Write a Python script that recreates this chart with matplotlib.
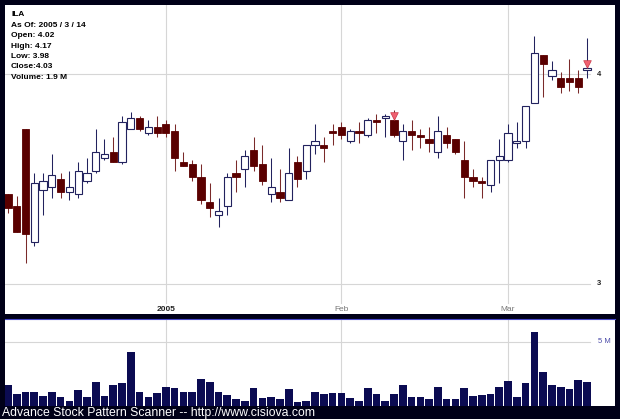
import matplotlib
matplotlib.use('Agg')
from matplotlib import pyplot as plt
from matplotlib.lines import Line2D
import numpy as np

# ILA daily candles, Dec 2004 -> 2005/3/14
opens = [3.43, 3.37, 3.74, 3.20, 3.45, 3.46, 3.50, 3.44, 3.43, 3.49,
         3.54, 3.60, 3.63, 3.58, 3.74, 3.79, 3.72, 3.75, 3.76, 3.73,
         3.58, 3.57, 3.51, 3.39, 3.33, 3.37, 3.53, 3.55, 3.64, 3.57,
         3.43, 3.44, 3.40, 3.58, 3.54, 3.66, 3.66, 3.73, 3.75, 3.68,
         3.73, 3.71, 3.78, 3.79, 3.78, 3.68, 3.73, 3.71, 3.69, 3.63,
         3.71, 3.69, 3.59, 3.51, 3.49, 3.47, 3.59, 3.59, 3.67, 3.68,
         3.86, 4.09, 3.99, 3.98, 3.98, 3.98, 4.02]
highs = [3.43, 3.42, 3.74, 3.53, 3.53, 3.62, 3.53, 3.54, 3.58, 3.60,
         3.74, 3.69, 3.70, 3.80, 3.82, 3.80, 3.78, 3.80, 3.78, 3.76,
         3.63, 3.59, 3.57, 3.48, 3.41, 3.53, 3.59, 3.64, 3.70, 3.66,
         3.60, 3.55, 3.65, 3.61, 3.66, 3.76, 3.70, 3.76, 3.77, 3.74,
         3.77, 3.79, 3.81, 3.81, 3.83, 3.76, 3.78, 3.74, 3.75, 3.80,
         3.75, 3.69, 3.68, 3.55, 3.51, 3.59, 3.69, 3.76, 3.77, 3.85,
         4.18, 4.09, 4.06, 4.01, 4.07, 4.02, 4.17]
lows = [3.34, 3.25, 3.10, 3.18, 3.33, 3.41, 3.41, 3.40, 3.41, 3.48,
        3.53, 3.59, 3.58, 3.57, 3.74, 3.73, 3.71, 3.70, 3.70, 3.54,
        3.56, 3.49, 3.38, 3.32, 3.27, 3.33, 3.44, 3.46, 3.54, 3.47,
        3.39, 3.39, 3.40, 3.46, 3.50, 3.62, 3.58, 3.66, 3.69, 3.67,
        3.67, 3.70, 3.72, 3.70, 3.70, 3.59, 3.64, 3.65, 3.63, 3.60,
        3.65, 3.62, 3.41, 3.46, 3.41, 3.44, 3.48, 3.58, 3.65, 3.65,
        3.86, 3.89, 3.97, 3.91, 3.92, 3.91, 3.98]
closes = [3.36, 3.25, 3.24, 3.48, 3.49, 3.52, 3.44, 3.46, 3.54, 3.53,
          3.63, 3.62, 3.58, 3.77, 3.79, 3.74, 3.75, 3.72, 3.72, 3.60,
          3.56, 3.51, 3.40, 3.36, 3.35, 3.51, 3.51, 3.61, 3.56, 3.49,
          3.46, 3.41, 3.53, 3.50, 3.66, 3.68, 3.65, 3.72, 3.71, 3.73,
          3.72, 3.78, 3.77, 3.80, 3.71, 3.73, 3.71, 3.70, 3.67, 3.73,
          3.67, 3.63, 3.51, 3.49, 3.48, 3.59, 3.61, 3.72, 3.68, 3.85,
          4.10, 4.05, 4.02, 3.94, 3.96, 3.94, 4.03]
volumes = [1.63, 0.93, 1.06, 1.11, 0.78, 1.06, 0.73, 0.39, 1.24, 0.67,
           1.87, 0.78, 1.66, 1.81, 4.22, 1.11, 0.67, 1.01, 1.50, 1.42,
           1.06, 1.11, 2.10, 1.87, 1.11, 0.86, 0.54, 0.39, 1.40, 0.60,
           0.70, 0.54, 1.32, 0.31, 0.39, 1.11, 0.93, 1.01, 1.01, 0.62,
           0.39, 1.40, 0.91, 0.39, 0.91, 1.66, 0.70, 0.70, 0.54, 1.45,
           0.57, 0.57, 1.40, 0.75, 0.86, 0.91, 1.45, 1.94, 0.70, 1.81,
           5.75, 2.64, 1.61, 1.50, 1.35, 2.02, 1.87]  # millions

month_idx = [18, 38, 57]
month_labels = ['2005', 'Feb', 'Mar']
signal_idx = [44, 66]
price_levels = [3, 4]

info_lines = ['ILA', 'As Of: 2005 / 3 / 14', 'Open: 4.02', 'High: 4.17',
              'Low: 3.98', 'Close:4.03', 'Volume: 1.9 M']
footer = 'Advance Stock Pattern Scanner -- http://www.cisiova.com'

W, H = 620.0, 419.0
DOWN = '#5a0000'
DOWN_WICK = '#7a2a2a'
UP_EDGE = '#22225e'
NAVY = '#0b0b52'
GRID = '#d6d6d6'

plt.rcParams['font.family'] = ['Liberation Sans', 'DejaVu Sans']

fig = plt.figure(figsize=(6.2, 4.19), dpi=100, facecolor='#000018')
ax = fig.add_axes([5 / W, (H - 314) / H, 610 / W, 309 / H])
axv = fig.add_axes([5 / W, (H - 406) / H, 610 / W, 87 / H])

for a in (ax, axv):
    a.set_facecolor('white')
    for s in a.spines.values():
        s.set_visible(False)
    a.set_xticks([])
    a.set_yticks([])
    a.set_xlim(-0.34, 69.19)

ax.set_ylim(2.857, 4.329)
axv.set_ylim(0, 6.77)

x = np.arange(len(opens))
o = np.array(opens)
c = np.array(closes)
up = c >= o

# grid
for i in month_idx:
    ax.axvline(i, ymin=0.036, ymax=1, color=GRID, lw=0.8, zorder=0)
    axv.axvline(i, color=GRID, lw=0.8, zorder=0)
for lvl in price_levels:
    ax.axhline(lvl, xmin=0, xmax=0.959, color=GRID, lw=0.8, zorder=0)
    ax.text(0.970, lvl, str(lvl), transform=ax.get_yaxis_transform(),
            fontsize=5.5, fontweight='bold', va='center', ha='left', color='#222222')
axv.axhline(5, xmin=0, xmax=0.959, color=GRID, lw=0.8, zorder=0)
axv.text(0.972, 5, '5 M', transform=axv.get_yaxis_transform(),
         fontsize=5.5, va='center', ha='left', color='#4a4aa8')

for i, lab in zip(month_idx, month_labels):
    ax.text(i, 0.016, lab, transform=ax.get_xaxis_transform(), ha='center', va='center',
            fontsize=6, color='#222222' if lab == '2005' else '#777777',
            fontweight='bold' if lab == '2005' else 'normal')

# candles
ax.vlines(x[up], np.array(lows)[up], np.array(highs)[up], color=UP_EDGE, lw=0.75, zorder=1)
ax.vlines(x[~up], np.array(lows)[~up], np.array(highs)[~up], color=DOWN_WICK, lw=0.75, zorder=1)
body = np.maximum(np.abs(c - o), 0.005)
bottom = np.minimum(o, c)
ax.bar(x[up], body[up], bottom=bottom[up], width=0.82, color='white',
       edgecolor=UP_EDGE, linewidth=0.8, zorder=2)
ax.bar(x[~up], body[~up], bottom=bottom[~up], width=0.82, color=DOWN,
       edgecolor=DOWN, linewidth=0.6, zorder=2)

sig_y = [max(opens[i], closes[i]) + 0.02 for i in signal_idx]
ax.scatter(signal_idx, sig_y, marker='v', s=30, color='#f06070',
           edgecolors='#c83848', linewidths=0.5, zorder=3)

# volume
axv.bar(x, volumes, width=0.87, color=NAVY, zorder=2)

# panel separator
fig.add_artist(Line2D([5 / W, 615 / W], [(H - 318.5) / H] * 2, color='#4848c8', lw=0.8))

# header text
for k, line in enumerate(info_lines):
    fig.text(11 / W, (H - (15 + 10.4 * k)) / H, line, fontsize=6, fontweight='bold',
             color='black', va='center', ha='left')

fig.text(2 / W, (H - 413) / H, footer, fontsize=8.8, color='white', va='center', ha='left')

fig.savefig('out.png', dpi=100, facecolor=fig.get_facecolor())
